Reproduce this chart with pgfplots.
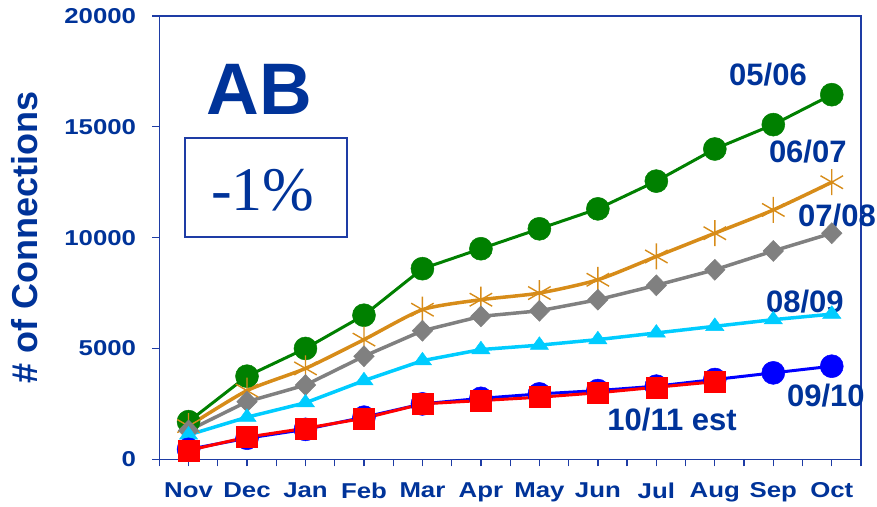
\documentclass[border=0pt]{standalone}
\usepackage{fontspec}
\setmainfont{Liberation Sans}
\newfontfamily\serifx{Liberation Serif}
\newfontfamily\tickf[FakeStretch=1.2]{Liberation Sans}
\usepackage{pgfplots}
\pgfplotsset{compat=1.18}
\definecolor{tb}{RGB}{0,51,153}
\definecolor{axb}{RGB}{30,60,165}
\definecolor{cgreen}{RGB}{0,128,0}
\definecolor{corange}{RGB}{215,140,25}
\definecolor{cgray}{RGB}{128,128,128}
\definecolor{ccyan}{RGB}{0,204,255}
\definecolor{cblue}{RGB}{0,0,255}
\definecolor{cred}{RGB}{255,0,0}
\begin{document}
\begin{tikzpicture}
\begin{axis}[
  scale only axis, width=701.7pt, height=443.3pt,
  xmin=-0.5, xmax=11.5, ymin=0, ymax=20000,
  scaled y ticks=false,
  xtick={0,...,11},
  xticklabels={Nov,Dec,Jan,Feb,Mar,Apr,May,Jun,Jul,Aug,Sep,Oct},
  minor xtick={-0.5,0.5,...,11.5},
  ytick={0,5000,10000,15000,20000},
  yticklabels={0,5000,10000,15000,20000},
  xtick pos=bottom, ytick pos=left, tick align=outside,
  major tick length=7pt, minor tick length=7pt,
  every tick/.style={axb, line width=1.3pt},
  every minor tick/.style={axb, line width=1.3pt},
  axis line style={axb, line width=1.5pt},
  tick label style={font=\tickf\fontsize{21.5}{21.5}\bfseries, text=tb, inner sep=0pt},
  xticklabel style={anchor=north, yshift=-16pt},
  yticklabel style={anchor=east, xshift=-16pt},
  clip=false,
]
\addplot[cgreen, line width=3pt, mark=*, mark size=11.5pt, mark options={line width=0.5pt}] coordinates {
(0,1700)(1,3750)(2,5000)(3,6500)(4,8600)(5,9500)(6,10400)(7,11300)(8,12550)(9,14000)(10,15100)(11,16450)};
\addplot[corange, line width=3.5pt, smooth, tension=0.4, mark=asterisk, mark size=13pt, mark options={line width=1.4pt}] coordinates {
(0,1500)(1,3100)(2,4100)(3,5400)(4,6750)(5,7200)(6,7500)(7,8100)(8,9150)(9,10200)(10,11250)(11,12500)};
\addplot[cgray, line width=3.5pt, mark=diamond*, mark size=10.5pt, mark options={line width=0.5pt, xscale=1.3}] coordinates {
(0,1300)(1,2600)(2,3350)(3,4650)(4,5800)(5,6450)(6,6700)(7,7200)(8,7850)(9,8550)(10,9400)(11,10200)};
\addplot[ccyan, line width=3.5pt, mark=triangle*, mark size=10.5pt, mark options={line width=0.5pt, yscale=0.8}] coordinates {
(0,1100)(1,1900)(2,2550)(3,3550)(4,4450)(5,4950)(6,5150)(7,5400)(8,5700)(9,6000)(10,6300)(11,6550)};
\addplot[cblue, line width=3pt, mark=*, mark size=11.5pt, mark options={line width=0.5pt}] coordinates {
(0,450)(1,950)(2,1350)(3,1900)(4,2500)(5,2750)(6,2950)(7,3100)(8,3300)(9,3600)(10,3900)(11,4200)};
\addplot[cred, line width=3pt, mark=square*, mark size=10.5pt, mark options={line width=0.5pt}] coordinates {
(0,400)(1,1000)(2,1400)(3,1850)(4,2500)(5,2650)(6,2800)(7,3000)(8,3250)(9,3500)};
\node[font=\fontsize{31}{31}\bfseries, text=tb] at (axis cs:9.91,17340) {05/06};
\node[font=\fontsize{31}{31}\bfseries, text=tb] at (axis cs:10.59,13879) {06/07};
\node[font=\fontsize{31}{31}\bfseries, text=tb] at (axis cs:11.09,10978) {07/08};
\node[font=\fontsize{31}{31}\bfseries, text=tb] at (axis cs:10.54,7111) {08/09};
\node[font=\fontsize{31}{31}\bfseries, text=tb] at (axis cs:10.90,2856) {09/10};
\node[font=\fontsize{31}{31}\bfseries, text=tb] at (axis cs:8.27,1773) {10/11 est};
\node[font=\fontsize{73}{73}\bfseries, text=tb, inner sep=0pt] at (axis cs:1.215,16668) {AB};
\draw[axb, line width=2pt] (axis cs:-0.068,10017) rectangle (axis cs:2.704,14511);
\node[font=\serifx\fontsize{62}{62}\selectfont, text=tb, inner sep=0pt] at (axis cs:1.272,12151) {-1\%};
\end{axis}
\node[rotate=90, font=\fontsize{36}{36}\bfseries, text=tb, inner sep=0pt] at ([xshift=-134.5pt]current axis.west) {\# of Connections};
\pgfresetboundingbox
\path[use as bounding box] ([shift={(-159.3pt,-46.7pt)}]current axis.south west) rectangle ([shift={(16pt,16pt)}]current axis.north east);
\end{tikzpicture}
\end{document}
